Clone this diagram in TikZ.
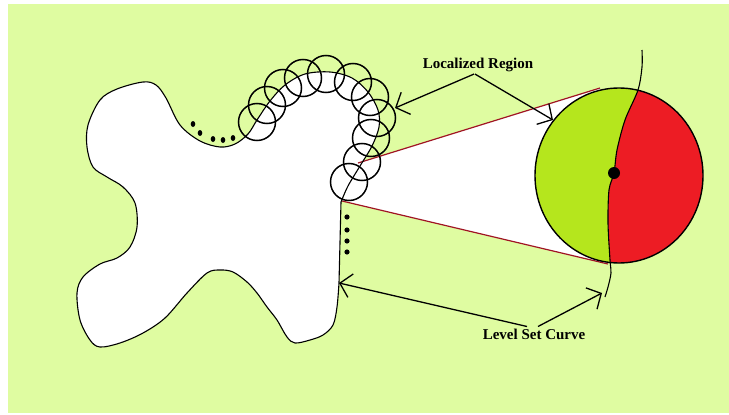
\documentclass[tikz,border=0pt]{standalone}
\usepackage{fontspec}
\setmainfont{Liberation Serif}
\usetikzlibrary{arrows.meta}
\definecolor{bgreen}{RGB}{223,252,161}
\definecolor{limeg}{RGB}{181,230,29}
\definecolor{redin}{RGB}{237,28,36}
\definecolor{redline}{RGB}{160,20,35}
\tikzset{
  lbl/.style={font=\fontsize{15}{18}\selectfont\bfseries, inner sep=2pt},
  arr/.style={line width=1.3pt, -{Straight Barb[length=11pt,width=24pt,line width=1.3pt]}},
  probe/.style={draw, line width=1.5pt},
  dotty/.style={fill=black}
}
\begin{document}
\begin{tikzpicture}[x=1pt, y=-1pt]
\useasboundingbox (0,0) rectangle (729,415);
% background
\fill[bgreen] (8,4) rectangle (729,413);
% the object (white, level set inside)
\fill[white] plot[smooth, tension=0.55] coordinates {
  (339,283) (337,307) (333,325) (323,335) (310,340) (295,343) (287,337) (277,320)
  (267,307) (257,293) (247,282) (233,272) (220,270) (207,273) (187,293) (165,318)
  (143,333) (120,343) (100,347) (90,340) (80,320) (77,293) (83,277) (100,264) (117,258)
  (130,247) (137,227) (135,203) (123,187) (107,177) (93,167) (87,147) (88,125) (100,100)
  (117,89) (143,82) (156,85) (166,98) (180,125) (200,141) (220,147) (235,144) (248,134)
  (257,120) (270,101) (285,85) (305,74) (330,72) (352,78) (368,92) (378,110) (379,127)
  (372,146) (360,166) (348,186) (341,202)} -- cycle;
% zoom cone
\fill[white] (358,163) -- (600,88) -- (608,264) -- (342,201) -- cycle;
\draw[redline, line width=1.2pt] (358,163) -- (600,88);
\draw[redline, line width=1.2pt] (342,201) -- (608,264);
% magnified region, green inside / red outside
\begin{scope}
  \clip (619,175.5) ellipse [x radius=84, y radius=87.5];
  \fill[limeg] (530,80) rectangle (710,270);
  \fill[redin] plot[smooth] coordinates {(642,50) (642,67) (638,90) (625,120) (617,150)
    (614,173) (609,190) (608,223) (610,260) (611,273) (608,287) (605,297)}
    -- (720,297) -- (720,50) -- cycle;
\end{scope}
\draw[line width=1.4pt] (619,175.5) ellipse [x radius=84, y radius=87.5];
\draw[line width=1.1pt] plot[smooth] coordinates {(642,50) (642,67) (638,90) (625,120)
  (617,150) (614,173) (609,190) (608,223) (610,260) (611,273) (608,287) (605,297)};
\fill[black] (614,173) circle (6);
% outline of the object
\draw[line width=1.1pt] plot[smooth, tension=0.55] coordinates {
  (339,283) (337,307) (333,325) (323,335) (310,340) (295,343) (287,337) (277,320)
  (267,307) (257,293) (247,282) (233,272) (220,270) (207,273) (187,293) (165,318)
  (143,333) (120,343) (100,347) (90,340) (80,320) (77,293) (83,277) (100,264) (117,258)
  (130,247) (137,227) (135,203) (123,187) (107,177) (93,167) (87,147) (88,125) (100,100)
  (117,89) (143,82) (156,85) (166,98) (180,125) (200,141) (220,147) (235,144) (248,134)
  (257,120) (270,101) (285,85) (305,74) (330,72) (352,78) (368,92) (378,110) (379,127)
  (372,146) (360,166) (348,186) (341,202)} -- cycle;
% local circles along the curve
\foreach \cx/\cy in {257/122, 267/105, 283/88, 303/78, 326/74, 353/82,
                     370/97, 377/118, 371/138, 362/162, 349/182} {
  \draw[probe] (\cx,\cy) circle (18.5);
}
% dots
\foreach \dx/\dy in {193/124, 200/133, 213/139, 223/140, 233/138} {
  \fill[dotty] (\dx,\dy) ellipse [x radius=2.3, y radius=3];
}
\foreach \dy in {217, 230, 241, 252} {
  \fill[dotty] (347,\dy) circle (2.6);
}
% labels
\node[lbl] (lr) at (478,65) {Localized Region};
\node[lbl] (lsc) at (534,334) {Level Set Curve};
\coordinate (lrl) at (395,108);
\coordinate (lrr) at (553,120);
\coordinate (lscl) at (339,283);
\coordinate (lscr) at (602,293);
% arrows
\draw[arr] ([xshift=-4pt]lr.south) -- (lrl);
\draw[arr] ([xshift=-3pt]lr.south) -- (lrr);
\draw[arr] ([xshift=-7pt]lsc.north) -- (lscl);
\draw[arr] ([xshift=4pt]lsc.north) -- (lscr);
\end{tikzpicture}
\end{document}
